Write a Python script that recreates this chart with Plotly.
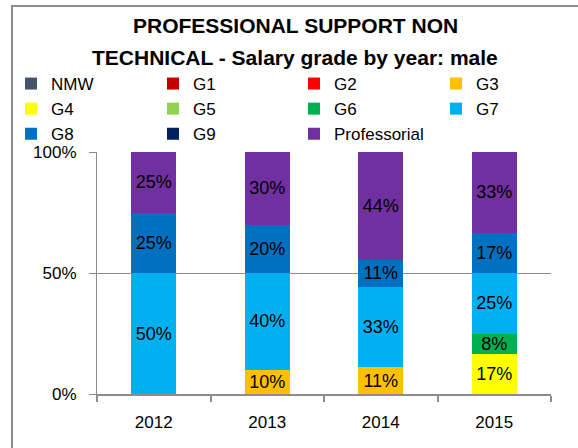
import plotly.graph_objects as go

# ---- data ----
years = ["2012", "2013", "2014", "2015"]
grades = ["NMW", "G1", "G2", "G3", "G4", "G5", "G6", "G7", "G8", "G9", "Professorial"]
nmw = [0, 0, 0, 0]
g1 = [0, 0, 0, 0]
g2 = [0, 0, 0, 0]
g3 = [0, 10, 11.1, 0]
g4 = [0, 0, 0, 16.7]
g5 = [0, 0, 0, 0]
g6 = [0, 0, 0, 8.3]
g7 = [50, 40, 33.3, 25]
g8 = [25, 20, 11.1, 16.7]
g9 = [0, 0, 0, 0]
professorial = [25, 30, 44.4, 33.3]
y_ticks = [0, 50, 100]
y_tick_labels = ["0%", "50%", "100%"]

series = [nmw, g1, g2, g3, g4, g5, g6, g7, g8, g9, professorial]
colors = ["#44546A", "#C00000", "#FF0000", "#FFC000", "#FFFF00", "#92D050",
          "#00B050", "#00B0F0", "#0070C0", "#002060", "#7030A0"]
# legend column for each grade (4-column legend, filled row by row)
legend_ids = ["legend", "legend2", "legend3", "legend4",
              "legend", "legend2", "legend3", "legend4",
              "legend", "legend2", "legend3"]

FONT = "Liberation Sans"
W, H = 578, 448
L, R, T, B = 97, 27, 152, 54
plot_w = W - L - R
plot_h = H - T - B


def px_x(px):
    return (px - L) / plot_w


def px_y(py):
    return (H - B - py) / plot_h


fig = go.Figure()
for name, vals, col, lg in zip(grades, series, colors, legend_ids):
    fig.add_trace(go.Bar(
        x=years, y=vals, name=name, marker_color=col, marker_line_width=0,
        text=[f"{v:.0f}%" if v else "" for v in vals],
        textposition="inside", insidetextanchor="middle", textangle=0,
        textfont=dict(family=FONT, size=18, color="black"),
        legend=lg, hoverinfo="skip",
    ))

legend_common = dict(
    orientation="v", traceorder="normal", xref="paper", yref="paper",
    xanchor="left", yanchor="top", bgcolor="rgba(0,0,0,0)", tracegroupgap=0,
    font=dict(family=FONT, size=17, color="black"), itemclick=False,
)
col_centers = [35, 177, 318, 460]
leg_top = 66
legends = {}
for i, key in enumerate(["legend", "legend2", "legend3", "legend4"]):
    legends[key] = dict(legend_common, x=px_x(col_centers[i] - 24), y=px_y(leg_top))

fig.update_layout(
    width=W, height=H,
    margin=dict(l=L, r=R, t=T, b=B, pad=0, autoexpand=False),
    barmode="stack", bargap=0.6,
    plot_bgcolor="white", paper_bgcolor="white",
    showlegend=True,
    uniformtext=dict(minsize=18, mode="show"),
    font=dict(family=FONT, size=17, color="black"),
    xaxis=dict(
        type="category", showgrid=False, showline=True, linecolor="#8C8C8C", linewidth=2,
        ticks="outside", tickson="boundaries", ticklen=6, tickcolor="#8C8C8C", tickwidth=1.5,
        tickfont=dict(family=FONT, size=17, color="black"), ticklabelstandoff=12,
        automargin=False, fixedrange=True,
    ),
    yaxis=dict(
        range=[0, 100], tickmode="array", tickvals=y_ticks, ticktext=y_tick_labels,
        showgrid=True, gridcolor="#8C8C8C", gridwidth=1, zeroline=False,
        showline=True, linecolor="#8C8C8C", linewidth=1,
        ticks="outside", ticklen=7, tickcolor="#8C8C8C",
        tickfont=dict(family=FONT, size=17, color="black"), ticklabelstandoff=9,
        automargin=False, fixedrange=True,
    ),
    annotations=[
        dict(text="<b>PROFESSIONAL SUPPORT NON</b>", xref="paper", yref="paper",
             x=px_x(295), y=px_y(26), xanchor="center", yanchor="middle", showarrow=False,
             font=dict(family=FONT, size=21, color="black")),
        dict(text="<b>TECHNICAL - Salary grade by year: male</b>", xref="paper", yref="paper",
             x=px_x(295), y=px_y(57), xanchor="center", yanchor="middle", showarrow=False,
             font=dict(family=FONT, size=21, color="black")),
    ],
    shapes=[
        dict(type="path", xref="paper", yref="paper",
             path=f"M {px_x(12)},{px_y(470)} L {px_x(12)},{px_y(6)} L {px_x(600)},{px_y(6)}",
             line=dict(color="#8C8C8C", width=2)),
    ],
    **legends,
)

fig.write_html(
    "out.html",
    config={"displayModeBar": False},
    post_script="document.body.style.margin='0';document.body.style.overflow='hidden';",
)
